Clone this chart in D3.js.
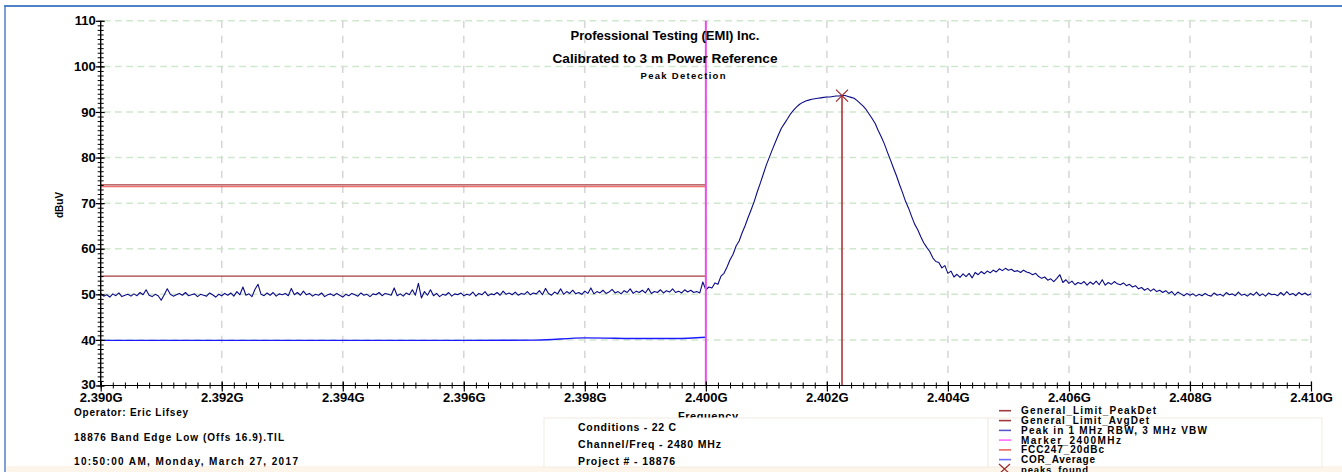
<!DOCTYPE html>
<html><head><meta charset="utf-8">
<script src="https://cdn.jsdelivr.net/npm/d3@7"></script>
<style>
body{margin:0;background:#fff;}
svg{display:block;font-family:"Liberation Sans",Arial,sans-serif;}
</style>
</head><body>
<svg id="chart" width="1342" height="472"></svg>
<script>
// ---------- DATA ----------
const xTickValues = [2.390, 2.392, 2.394, 2.396, 2.398, 2.400, 2.402, 2.404, 2.406, 2.408, 2.410];
const yTickValues = [30, 40, 50, 60, 70, 80, 90, 100, 110];
const freqStartGHz = 2.390;
const freqStepGHz = 0.00005;
// Peak in 1 MHz RBW, 3 MHz VBW (dBuV), one value per sweep point
const peakTraceA = [
 50.2,49.6,49.9,49.4,50.1,49.7,50.3,49.5,49.8,50.0,49.6,50.1,49.7,50.4,49.9,51.0,49.8,49.5,50.0,49.7,
 48.7,49.9,51.2,50.0,49.6,49.9,50.2,49.8,50.4,49.7,49.9,50.1,49.5,50.0,49.8,49.6,50.3,49.9,49.4,50.0,
 49.7,50.2,49.8,50.3,49.6,50.6,49.9,51.6,49.8,50.1,49.5,51.1,52.2,50.0,49.7,50.3,49.8,50.4,49.6,50.1,
 49.9,50.2,49.7,51.3,49.9,50.4,49.8,50.7,49.9,50.2,49.6,50.0,49.8,50.3,49.5,49.9,50.1,49.7,50.2,49.8,
 49.4,50.0,49.7,50.2,49.9,49.6,50.3,49.8,50.0,49.5,50.1,49.9,50.4,49.7,50.2,50.0,49.8,51.4,49.7,50.1,
 49.6,50.3,49.9,51.0,49.8,52.4,49.2,50.6,49.8,51.0,49.7,50.2,49.5,50.0,49.8,50.4,49.6,50.1,49.9,50.3,
 49.7,50.0,49.8,50.5,49.6,50.2,49.9,50.6,49.7,50.1,49.9,50.4,49.8,50.7,50.0,50.3,49.9,50.5,49.8,50.2,
 50.0,50.6,49.9,50.3,50.1,50.8,49.9,51.3,50.2,49.8,50.5,50.1,51.2,50.0,50.6,50.2,50.9,50.1,50.4,50.0,
 50.7,50.2,51.4,50.1,50.6,50.3,50.9,50.2,50.5,51.1,50.3,50.6,50.1,50.8,50.4,51.2,50.2,50.7,50.4,50.9,
 50.3,51.3,50.2,50.6,50.4,51.0,50.3,50.8,50.5,51.2,50.4,50.7,50.3,51.0,50.5,50.9,50.4,50.6,50.3,52.7
];
const peakTraceB = [
 51.0,51.6,51.4,52.5,52.2,54.0,54.6,56.0,57.6,58.8,60.6,61.7,63.5,65.1,66.9,68.6,70.4,72.5,74.4,76.4,
 78.4,80.1,81.8,83.4,85.0,86.5,87.5,88.5,89.6,90.4,91.1,91.7,92.1,92.4,92.6,92.8,92.9,93.0,93.1,93.2,
 93.3,93.3,93.4,93.5,93.5,93.6,93.6,93.4,93.2,93.0,92.5,91.9,91.3,90.5,89.5,88.5,87.4,85.9,84.5,83.0,
 81.2,79.5,77.7,76.0,74.1,72.3,70.4,68.9,67.1,65.4,64.2,62.7,61.3,60.3,59.4,58.0,57.2,57.0,55.8,56.3,
 54.6,55.1,53.8,54.4,53.7,54.5,53.9,54.6,53.6,54.8,54.3,55.0,54.5,55.1,54.7,55.3,54.9,55.6,55.2,55.7,
 55.3,55.5,55.0,55.2,54.8,55.3,54.9,54.7,54.3,54.6,53.9,53.5,53.8,53.1,53.4,52.8,53.5,54.3,52.6,53.2,
 52.4,52.9,52.1,52.6,52.3,52.8,52.0,52.7,52.2,52.9,52.1,53.2,52.0,52.6,52.2,52.8,52.3,52.1,52.5,51.9,
 52.2,51.6,51.9,51.2,51.5,50.9,51.3,50.7,51.2,50.6,50.9,50.4,50.8,50.2,50.6,49.8,50.5,50.1,49.7,50.2,
 49.8,50.1,49.6,50.0,49.7,50.2,49.8,49.6,50.3,49.8,50.0,49.6,50.4,49.9,50.1,49.7,50.5,49.8,50.0,49.6,
 50.2,49.8,50.5,49.7,50.1,49.6,50.3,49.9,50.0,49.7,50.4,49.8,50.6,49.9,50.2,49.7,50.4,49.9,50.3,49.8,
 50.1
];
// COR_Average
const corFreq  = [2.3900, 2.3930, 2.3960, 2.3972, 2.3980, 2.3990, 2.3995, 2.40000];
const corLevel = [39.9,   39.9,   39.9,   39.95,  40.45,  40.3,   40.3,   40.6];
// limits (from 2.390 to 2.400 GHz)
const limitFreq = [2.390, 2.400];
const peakDetLimit = 74.0;
const fcc20dBcLimit = 73.6;
const avgDetLimit = 54.0;
const markerFreq = 2.400;
const peaksFoundFreq = [2.40225];
const peaksFoundLevel = [93.6];
// texts
const titleLines = ["Professional Testing (EMI) Inc.", "Calibrated to 3 m Power Reference"];
const subTitle = "Peak Detection";
const infoLeft = ["Operator: Eric Lifsey", "18876 Band Edge Low (Offs 16.9).TIL", "10:50:00 AM, Monday, March 27, 2017"];
const infoMid = ["Conditions - 22 C", "Channel/Freq - 2480 MHz", "Project # - 18876"];
const legendLabels = ["General_Limit_PeakDet", "General_Limit_AvgDet", "Peak in 1 MHz RBW, 3 MHz VBW", "Marker_2400MHz", "FCC247_20dBc", "COR_Average", "peaks_found"];
const legendColors = ["#a3393c", "#a3393c", "#5858c8", "#ff6cff", "#f06464", "#6c6cff", "#a02828"];

// ---------- DRAW ----------
const svg = d3.select("#chart");
const x = d3.scaleLinear().domain([2.390, 2.410]).range([100.7, 1311]);
const y = d3.scaleLinear().domain([30, 110]).range([385.5, 20.8]);

// frame
svg.append("rect").attr("x", 5).attr("y", 466).attr("width", 1337).attr("height", 6).attr("fill", "#fdf5ea");
svg.append("line").attr("x1", 5).attr("x2", 5).attr("y1", 5).attr("y2", 472).attr("stroke", "#7ea2d6").attr("stroke-width", 2);
svg.append("line").attr("x1", 4).attr("x2", 1342).attr("y1", 6).attr("y2", 6).attr("stroke", "#4f81c6").attr("stroke-width", 2.2);

// grid
const g = svg.append("g");
g.selectAll("line.hg").data(yTickValues.slice(1)).enter().append("line")
  .attr("x1", x(2.390) + 3).attr("x2", x(2.410)).attr("y1", d => y(d)).attr("y2", d => y(d))
  .attr("stroke", "#cfe8cd").attr("stroke-width", 1.5).attr("stroke-dasharray", "6.7,4.6");
g.selectAll("line.vg").data(xTickValues.slice(1)).enter().append("line")
  .attr("x1", d => x(d)).attr("x2", d => x(d)).attr("y1", y(110)).attr("y2", y(30))
  .attr("stroke", "#d6d6d6").attr("stroke-width", 1.5).attr("stroke-dasharray", "7.3,7.7");

// limits
const hline = (lvl, col, w) => svg.append("line")
  .attr("x1", x(limitFreq[0])).attr("x2", x(limitFreq[1])).attr("y1", y(lvl)).attr("y2", y(lvl))
  .attr("stroke", col).attr("stroke-width", w);
hline(peakDetLimit, "#a83a3e", 1.1);
hline(fcc20dBcLimit, "#ee4848", 1.0);
hline(avgDetLimit, "#a83a3e", 1.4);

// COR average
const corData = corFreq.map((f, i) => [f, corLevel[i]]);
svg.append("path").datum(corData)
  .attr("d", d3.line().x(d => x(d[0])).y(d => y(d[1])).curve(d3.curveMonotoneX))
  .attr("fill", "none").attr("stroke", "#1a1aff").attr("stroke-width", 1.4);

// peak trace
const traceVals = peakTraceA.concat(peakTraceB);
const traceData = traceVals.map((v, i) => [freqStartGHz + i * freqStepGHz, v]);
svg.append("path").datum(traceData)
  .attr("d", d3.line().x(d => x(d[0])).y(d => y(d[1])))
  .attr("fill", "none").attr("stroke", "#0b0b86").attr("stroke-width", 1.1).attr("stroke-linejoin", "round");

// marker 2400 MHz
svg.append("line").attr("x1", x(markerFreq)).attr("x2", x(markerFreq)).attr("y1", y(110)).attr("y2", y(30))
  .attr("stroke", "#ea4fea").attr("stroke-width", 2);

// peaks found
peaksFoundFreq.forEach((f, i) => {
  const px = x(f), py = y(peaksFoundLevel[i]);
  svg.append("line").attr("x1", px).attr("x2", px).attr("y1", py).attr("y2", y(30))
    .attr("stroke", "#a52a2a").attr("stroke-width", 1.5);
  svg.append("path").attr("d", `M${px-6},${py-6}L${px+6},${py+6}M${px-6},${py+6}L${px+6},${py-6}`)
    .attr("stroke", "#a52a2a").attr("stroke-width", 1.2).attr("fill", "none");
});

// axes
const xAxisG = svg.append("g").attr("transform", `translate(0,${y(30)})`);
xAxisG.call(d3.axisBottom(x).tickValues(d3.range(0, 101).map(i => 2.390 + i * 0.0002)).tickSize(3).tickFormat(""))
  .call(a => a.selectAll(".tick line").attr("y1", -3).attr("stroke", "#000"))
  .call(a => a.select(".domain").remove());
const xMaj = svg.append("g").attr("transform", `translate(0,${y(30)})`)
  .call(d3.axisBottom(x).tickValues(xTickValues).tickSize(6).tickPadding(0).tickFormat(d => d3.format(".3f")(d) + "G"));
xMaj.selectAll(".tick line").attr("y1", -4).attr("stroke", "#000").attr("stroke-width", 1.2);
xMaj.select(".domain").attr("stroke", "#000").attr("stroke-width", 1.2).attr("d", `M${x(2.390)},0H${x(2.410)}`);
xMaj.selectAll(".tick text").attr("font-size", 13).attr("font-weight", "bold").attr("fill", "#000")
  .attr("font-family", "Liberation Sans, Arial, sans-serif").attr("y", 7).attr("dy", "0.71em");

const yAxisG = svg.append("g").attr("transform", `translate(${x(2.390)},0)`);
yAxisG.call(d3.axisLeft(y).tickValues(d3.range(30, 111)).tickSize(3).tickFormat(""))
  .call(a => a.selectAll(".tick line").attr("x1", 3).attr("stroke", "#000"))
  .call(a => a.select(".domain").remove());
const yMaj = svg.append("g").attr("transform", `translate(${x(2.390)},0)`)
  .call(d3.axisLeft(y).tickValues(yTickValues).tickSize(5).tickPadding(0));
yMaj.selectAll(".tick line").attr("x1", 4).attr("stroke", "#000").attr("stroke-width", 1.2);
yMaj.select(".domain").attr("stroke", "#000").attr("stroke-width", 1.4).attr("d", `M0,${y(110)}V${y(30)}`);
yMaj.selectAll(".tick text").attr("font-size", 13).attr("font-weight", "bold").attr("fill", "#000")
  .attr("font-family", "Liberation Sans, Arial, sans-serif").attr("x", -5)
  .attr("dy", d => d === 30 ? "0.2em" : "0.32em");

// axis titles
svg.append("text").attr("transform", "translate(63,205) rotate(-90)").attr("text-anchor", "middle")
  .attr("font-size", 10).attr("font-weight", "bold").text("dBuV");
svg.append("text").attr("x", 708).attr("y", 420).attr("text-anchor", "middle")
  .attr("font-size", 11).attr("font-weight", "bold").attr("textLength", 60).text("Frequency");

// titles
const titleW = [189, 225];
const titleY = [40, 63];
titleLines.forEach((t, i) => svg.append("text").attr("x", 665).attr("y", titleY[i]).attr("text-anchor", "middle")
  .attr("font-size", 13.5).attr("font-weight", "bold").attr("textLength", titleW[i])
  .attr("lengthAdjust", "spacingAndGlyphs").text(t));
svg.append("text").attr("x", 683).attr("y", 79).attr("text-anchor", "middle")
  .attr("font-size", 9.5).attr("font-weight", "bold").attr("textLength", 85).text(subTitle);

// info boxes
svg.append("rect").attr("x", 544).attr("y", 418).attr("width", 444).attr("height", 49)
  .attr("fill", "#fff").attr("stroke", "#f1ece2").attr("stroke-width", 1);
svg.append("rect").attr("x", 988).attr("y", 418).attr("width", 334).attr("height", 49)
  .attr("fill", "#fff").attr("stroke", "#f1ece2").attr("stroke-width", 1);

const leftW = [114, 210, 224], leftY = [416, 441, 465];
infoLeft.forEach((t, i) => svg.append("text").attr("x", 74).attr("y", leftY[i])
  .attr("font-size", 10).attr("font-weight", "bold").attr("textLength", leftW[i]).text(t));
const midW = [98, 143, 97], midY = [431, 448, 465];
infoMid.forEach((t, i) => svg.append("text").attr("x", 578).attr("y", midY[i])
  .attr("font-size", 10.5).attr("font-weight", "bold").attr("textLength", midW[i]).text(t));

// legend
const legY = [410.7, 420.6, 430.4, 440.1, 449.9, 459.6, 469.0];
const legW = [135, 128, 186, 100, 83, 74, 67];
legendLabels.forEach((t, i) => {
  const cy = legY[i];
  if (i < 6) {
    svg.append("line").attr("x1", 999).attr("x2", 1011).attr("y1", cy).attr("y2", cy)
      .attr("stroke", legendColors[i]).attr("stroke-width", 1.6);
  } else {
    svg.append("path").attr("d", `M${999},${cy-5}L${1010},${cy+5}M${999},${cy+5}L${1010},${cy-5}`)
      .attr("stroke", legendColors[i]).attr("stroke-width", 1.2).attr("fill", "none");
  }
  svg.append("text").attr("x", 1021).attr("y", cy + 3.5).attr("font-size", i === 6 ? 9.5 : 10).attr("font-weight", "bold")
    .attr("textLength", legW[i]).text(t);
});
</script>
</body></html>
